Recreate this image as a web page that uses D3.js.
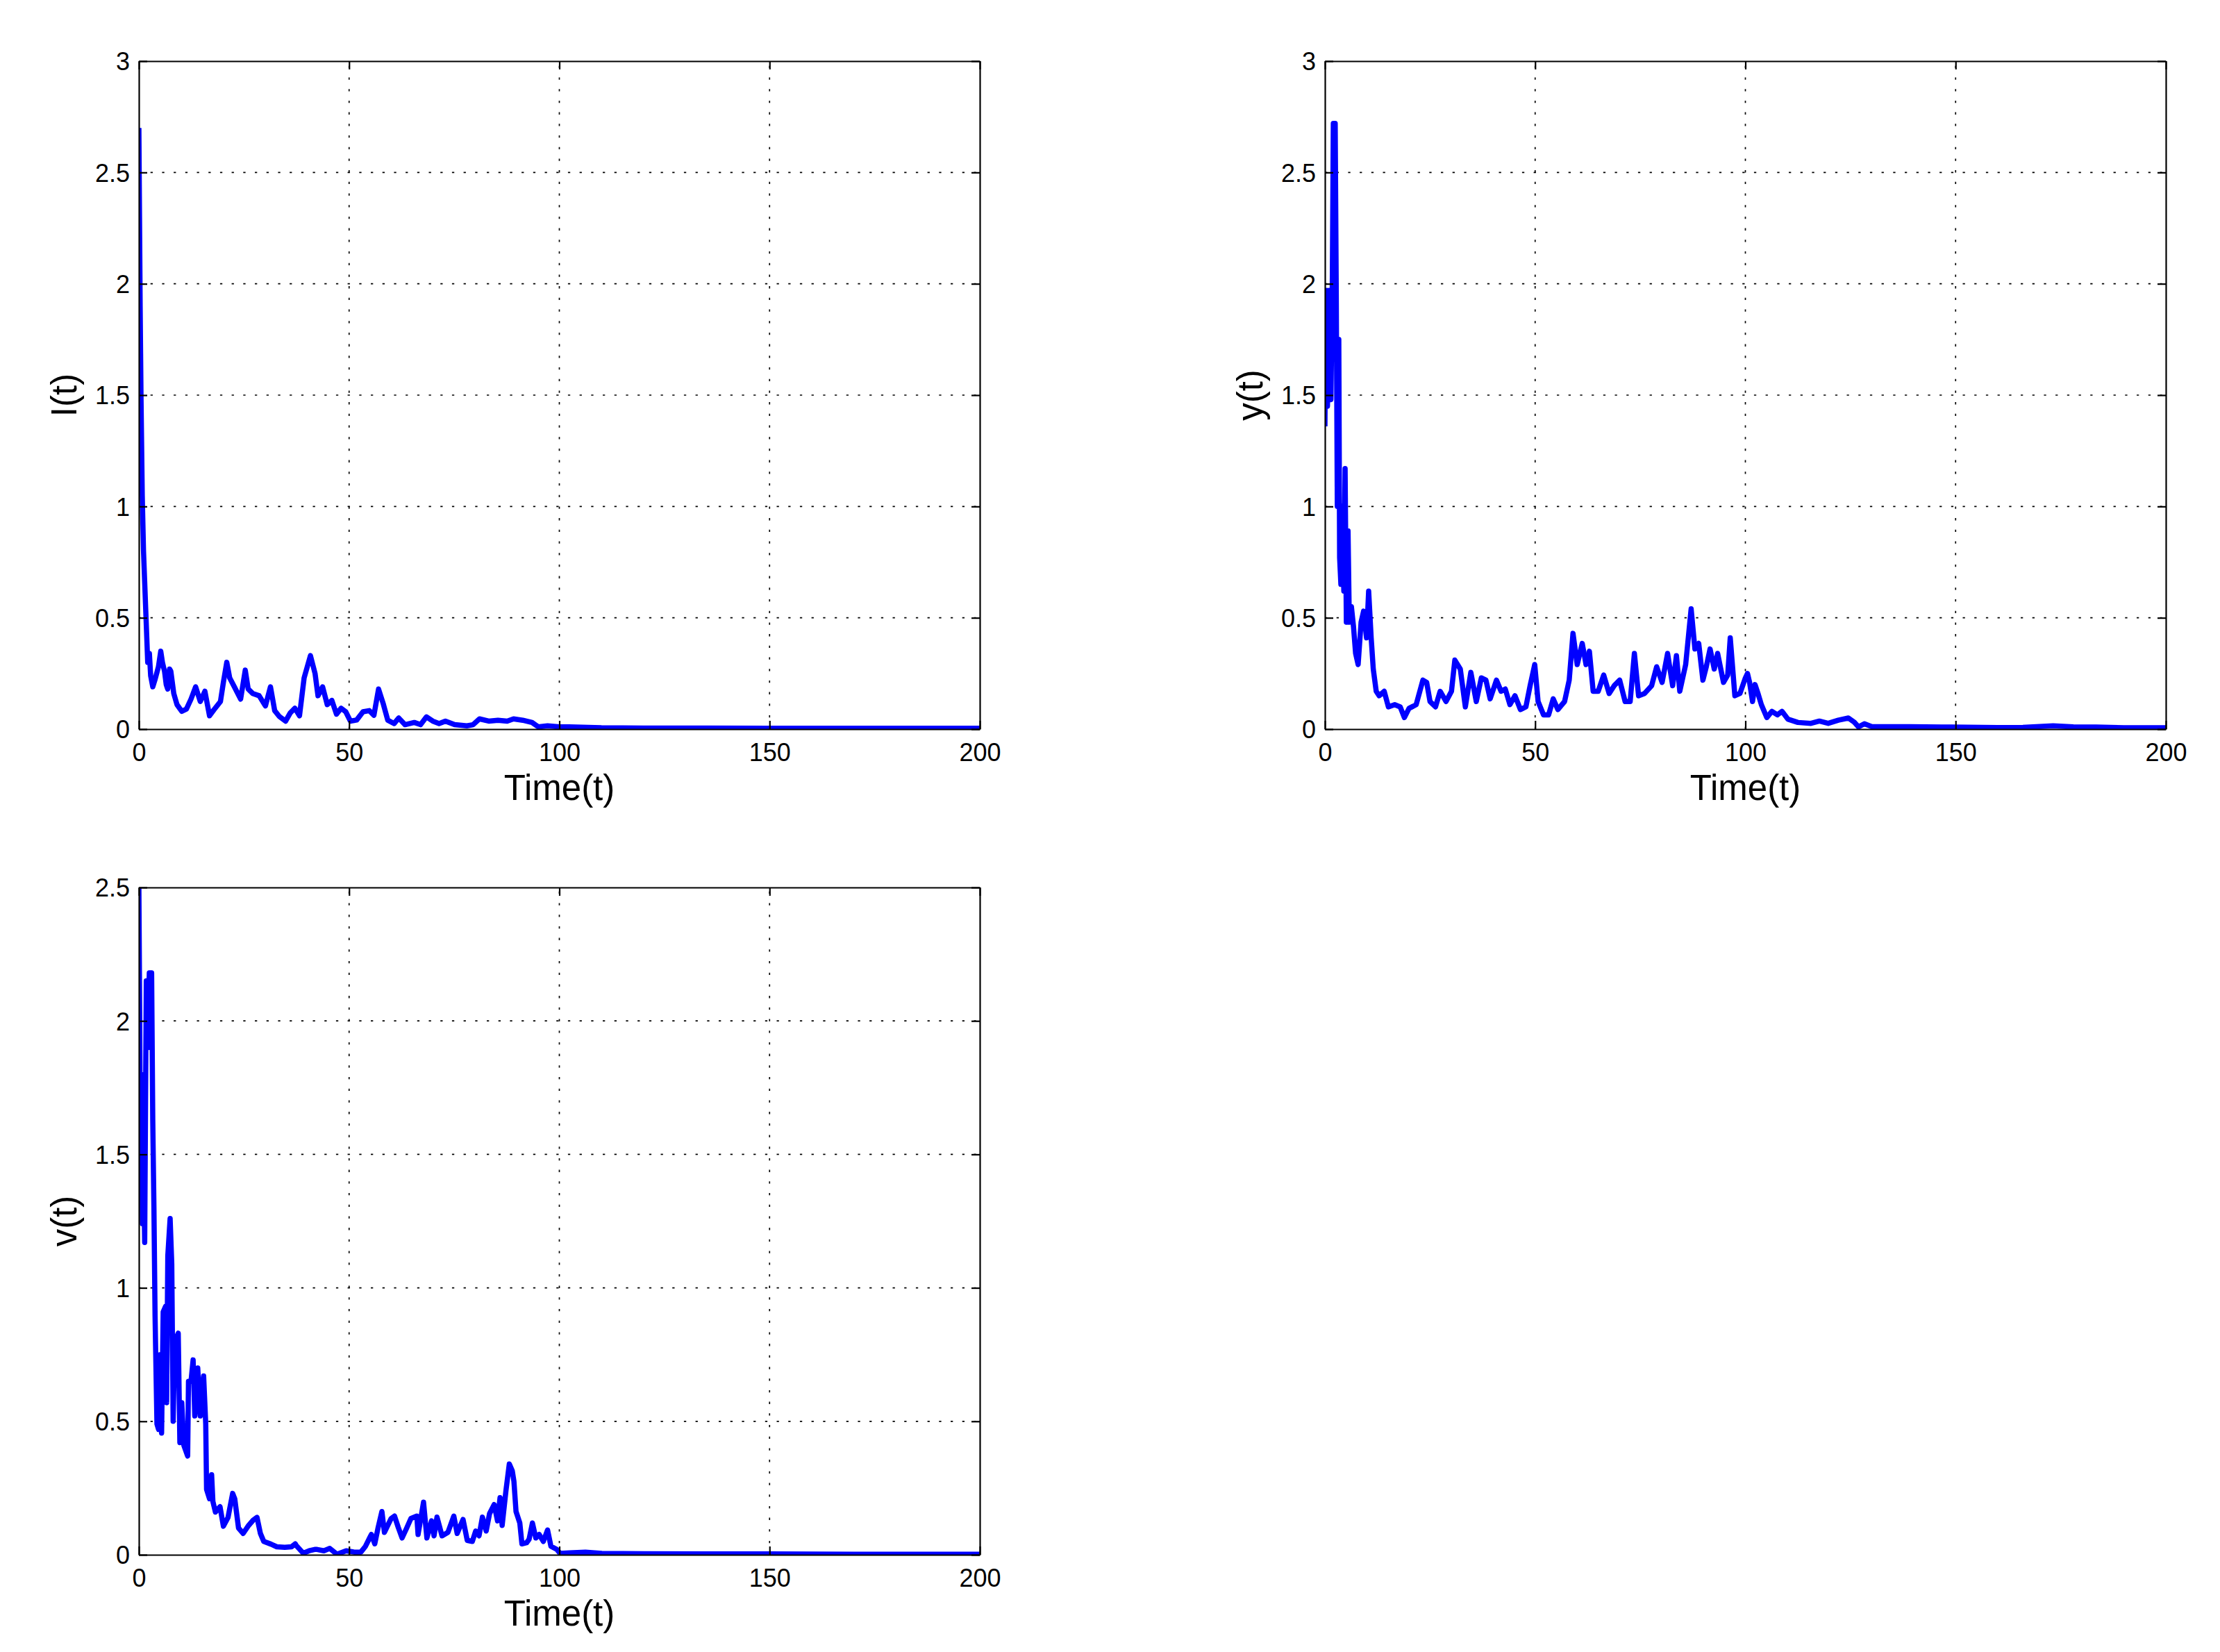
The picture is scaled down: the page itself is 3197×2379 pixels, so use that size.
<!DOCTYPE html>
<html>
<head>
<meta charset="utf-8">
<script src="https://cdn.jsdelivr.net/npm/d3@7"></script>
<style>
  html, body { margin: 0; padding: 0; background: #fff; }
  svg { display: block; }
</style>
</head>
<body>
<div id="chart"></div>
<script>
// tick labels
const xTicks = [0, 50, 100, 150, 200];
const yTicksTop = [0, 0.5, 1, 1.5, 2, 2.5, 3];
const yTicksBottom = [0, 0.5, 1, 1.5, 2, 2.5];

// I(t) as [time, value]
const seriesI = [
  [0,2.70],[0.15,2.3],[0.3,1.9],[0.5,1.5],[0.8,1.05],[1.1,0.8],[1.5,0.6],[1.8,0.45],[2.1,0.30],
  [2.5,0.34],[2.8,0.24],[3.3,0.19],[3.8,0.22],[4.65,0.28],[5.2,0.35],[5.6,0.30],[6.1,0.26],
  [6.5,0.20],[6.86,0.18],[7.3,0.27],[7.6,0.26],[8.3,0.16],[9.07,0.11],[10.2,0.08],[11.3,0.09],
  [12.4,0.135],[13.5,0.19],[14.6,0.124],[15.7,0.17],[16.8,0.06],[17.9,0.088],[19.4,0.124],
  [20.1,0.21],[20.9,0.30],[21.6,0.23],[22.7,0.19],[24.2,0.135],[25.3,0.265],[26.0,0.18],
  [27.1,0.16],[28.6,0.15],[30.1,0.104],[31.3,0.19],[32.3,0.083],[33.4,0.057],[34.9,0.036],
  [36.0,0.073],[37.1,0.094],[38.2,0.06],[39.3,0.23],[40.8,0.33],[41.9,0.25],[42.6,0.15],
  [43.7,0.19],[44.8,0.11],[45.9,0.129],[47.0,0.067],[48.1,0.094],[49.2,0.078],[50.3,0.036],
  [51.8,0.041],[53.3,0.078],[54.8,0.083],[55.9,0.062],[57.0,0.18],[58.1,0.115],[59.2,0.04],
  [60.7,0.025],[61.8,0.05],[63.3,0.02],[65.5,0.03],[67.0,0.02],[68.4,0.055],[69.9,0.036],
  [71.4,0.025],[72.9,0.036],[75.1,0.02],[78.0,0.015],[79.5,0.02],[81.0,0.046],[83.2,0.036],
  [85.4,0.04],[87.6,0.036],[89.1,0.046],[91.3,0.04],[93.5,0.03],[95.0,0.01],[97.2,0.015],
  [100.1,0.01],[102.3,0.01],[110,0.006],[120,0.005],[135,0.005],[150,0.004],[165,0.004],
  [180,0.004],[200,0.004]
];

// y(t)
const seriesY = [
  [0,1.36],[0.2,1.9],[0.42,1.97],[0.6,1.45],[0.76,1.6],[0.95,1.97],[1.1,1.5],[1.43,1.48],
  [1.77,2.03],[2.0,2.72],[2.44,2.72],[2.7,1.94],[2.95,1.0],[3.3,1.75],[3.5,0.77],[3.8,0.65],
  [4.1,1.0],[4.5,0.62],[4.8,1.17],[5.1,0.48],[5.5,0.89],[5.8,0.48],[6.3,0.55],[6.8,0.46],
  [7.3,0.34],[7.9,0.29],[8.6,0.48],[9.2,0.53],[9.9,0.41],[10.4,0.62],[11.0,0.41],[11.5,0.27],
  [12.2,0.17],[12.9,0.15],[14.1,0.17],[15.1,0.10],[16.6,0.11],[17.9,0.10],[18.9,0.052],
  [20.0,0.093],[21.7,0.11],[23.3,0.22],[24.2,0.21],[25.0,0.124],[26.3,0.10],[27.4,0.17],
  [28.8,0.124],[30.1,0.17],[30.9,0.31],[32.2,0.27],[33.4,0.10],[34.7,0.255],[36.0,0.124],
  [37.2,0.23],[38.3,0.22],[39.3,0.136],[40.8,0.22],[41.9,0.17],[42.9,0.18],[44.0,0.11],
  [45.2,0.15],[46.5,0.088],[47.8,0.10],[48.8,0.195],[49.9,0.29],[50.7,0.124],[52.0,0.064],
  [53.2,0.064],[54.3,0.136],[55.4,0.088],[57.0,0.124],[58.1,0.22],[59.0,0.43],[60.0,0.29],
  [61.2,0.385],[62.1,0.29],[62.9,0.35],[63.8,0.17],[65.0,0.17],[66.3,0.243],[67.6,0.16],
  [68.8,0.195],[70.1,0.22],[71.4,0.124],[72.6,0.124],[73.6,0.34],[74.6,0.15],[76.0,0.16],
  [77.7,0.195],[78.9,0.28],[80.2,0.21],[81.5,0.34],[82.7,0.195],[83.6,0.33],[84.4,0.17],
  [85.8,0.29],[87.1,0.54],[88.0,0.36],[88.9,0.385],[89.9,0.22],[90.7,0.28],[91.6,0.36],
  [92.6,0.27],[93.4,0.34],[94.8,0.21],[95.8,0.243],[96.4,0.41],[97.5,0.15],[98.7,0.16],
  [100.0,0.23],[100.5,0.25],[101.0,0.21],[101.7,0.124],[102.3,0.2],[103.0,0.16],[103.8,0.11],
  [105.1,0.052],[106.3,0.08],[107.6,0.064],[108.7,0.08],[110.1,0.045],[112.5,0.03],
  [115.6,0.026],[117.6,0.036],[119.7,0.026],[122.1,0.04],[124.5,0.05],[125.9,0.031],
  [126.9,0.01],[128.3,0.024],[130.0,0.012],[139,0.011],[149,0.009],[160,0.007],[166,0.008],
  [173.2,0.015],[178,0.01],[183.4,0.009],[190,0.006],[200,0.006]
];

// v(t)
const seriesV = [
  [0,2.5],[0.2,2.0],[0.39,1.42],[0.6,1.8],[0.83,1.24],[1.1,1.5],[1.38,1.17],[1.76,2.15],
  [2.1,1.9],[2.48,2.18],[3.03,2.18],[3.3,1.63],[3.58,1.30],[3.85,0.895],[4.3,0.49],[4.68,0.47],
  [5.07,0.75],[5.4,0.456],[5.78,0.91],[6.33,0.93],[6.6,0.57],[6.88,1.12],[7.43,1.26],
  [7.82,1.09],[8.15,0.50],[8.53,0.80],[9.36,0.83],[9.75,0.42],[10.2,0.57],[10.7,0.41],
  [11.6,0.37],[11.8,0.65],[12.4,0.65],[12.9,0.73],[13.3,0.52],[14.0,0.70],[14.6,0.52],
  [15.4,0.67],[15.9,0.49],[16.1,0.245],[16.8,0.21],[17.3,0.30],[17.6,0.2],[18.2,0.16],
  [19.3,0.18],[20.1,0.107],[21.2,0.14],[22.3,0.23],[22.8,0.21],[23.7,0.10],[24.8,0.08],
  [26.1,0.11],[27.2,0.13],[28.1,0.14],[28.9,0.08],[29.7,0.05],[31.4,0.04],[32.8,0.03],
  [34.7,0.028],[36.3,0.03],[37.2,0.041],[37.4,0.035],[39.1,0.006],[40.7,0.016],[41.8,0.02],
  [42.4,0.02],[44.0,0.015],[45.4,0.024],[47.1,0.002],[49.3,0.015],[51.2,0.01],[52.8,0.01],
  [53.9,0.032],[55.0,0.067],[55.3,0.076],[56.1,0.041],[56.9,0.102],[57.8,0.162],[58.4,0.084],
  [59.2,0.11],[60.0,0.136],[60.8,0.145],[61.7,0.102],[62.6,0.063],[63.6,0.097],[64.7,0.136],
  [66.1,0.145],[66.4,0.076],[67.7,0.197],[68.5,0.063],[69.6,0.127],[70.2,0.071],[70.9,0.141],
  [72.1,0.071],[73.5,0.084],[74.9,0.145],[75.7,0.08],[77.1,0.132],[78.1,0.054],[79.3,0.05],
  [80.1,0.089],[80.9,0.071],[81.7,0.141],[82.6,0.089],[83.4,0.154],[84.5,0.188],[85.3,0.127],
  [85.9,0.214],[86.4,0.11],[87.3,0.24],[88.1,0.34],[88.8,0.315],[89.2,0.275],[89.7,0.162],
  [90.6,0.119],[91.1,0.041],[92.2,0.045],[92.8,0.058],[93.6,0.119],[94.4,0.063],[95.2,0.076],
  [96.2,0.05],[97.2,0.093],[98.0,0.032],[99.4,0.02],[100.2,0.005],[102.4,0.007],[106.2,0.01],
  [110.1,0.005],[120,0.004],[135,0.003],[150,0.003],[170,0.002],[185,0.002],[200,0.002]
];

const W = 3197, H = 2379;
const font = "'Liberation Sans', Arial, Helvetica, sans-serif";

const panels = [
  { id: 'p1', left: 200, top: 88, w: 1211, h: 962, yMax: 3, yTicks: yTicksTop, label: 'I(t)', data: seriesI },
  { id: 'p2', left: 1908, top: 88, w: 1211, h: 962, yMax: 3, yTicks: yTicksTop, label: 'y(t)', data: seriesY },
  { id: 'p3', left: 200, top: 1278, w: 1211, h: 961, yMax: 2.5, yTicks: yTicksBottom, label: 'v(t)', data: seriesV },
];

const svg = d3.select('#chart')
  .append('svg')
  .attr('width', W)
  .attr('height', H)
  .attr('font-family', font);

svg.append('rect').attr('width', W).attr('height', H).attr('fill', '#fff');

function drawPanel(p) {
  const x = d3.scaleLinear().domain([0, 200]).range([0, p.w]);
  const y = d3.scaleLinear().domain([0, p.yMax]).range([p.h, 0]);

  const g = svg.append('g').attr('transform', `translate(${p.left},${p.top})`);

  g.append('clipPath').attr('id', 'clip-' + p.id)
    .append('rect').attr('width', p.w).attr('height', p.h);

  // dotted grid
  const grid = g.append('g')
    .attr('stroke', '#000')
    .attr('stroke-width', 1.7)
    .attr('stroke-dasharray', '3.3 13.4');
  grid.selectAll('.gx')
    .data(xTicks.filter(d => d > 0 && d < 200))
    .join('line')
    .attr('x1', d => x(d)).attr('x2', d => x(d))
    .attr('y1', p.h).attr('y2', 0);
  grid.selectAll('.gy')
    .data(p.yTicks.filter(d => d > 0 && d < p.yMax))
    .join('line')
    .attr('y1', d => y(d)).attr('y2', d => y(d))
    .attr('x1', 0).attr('x2', p.w);

  // data line
  const line = d3.line().x(d => x(d[0])).y(d => y(d[1]));
  g.append('path')
    .datum(p.data)
    .attr('clip-path', `url(#clip-${p.id})`)
    .attr('fill', 'none')
    .attr('stroke', '#0000ff')
    .attr('stroke-width', 7.5)
    .attr('stroke-linejoin', 'round')
    .attr('d', line);

  // box with inward ticks on all sides
  const bottom = g.append('g').attr('transform', `translate(0,${p.h})`)
    .call(d3.axisBottom(x).tickValues(xTicks).tickSizeInner(-12).tickSizeOuter(0).tickPadding(20)
      .tickFormat(d3.format('d')));
  const top = g.append('g')
    .call(d3.axisTop(x).tickValues(xTicks).tickSizeInner(-12).tickSizeOuter(0).tickFormat(''));
  const left = g.append('g')
    .call(d3.axisLeft(y).tickValues(p.yTicks).tickSizeInner(-12).tickSizeOuter(0).tickPadding(13)
      .tickFormat(d => String(d)));
  const right = g.append('g').attr('transform', `translate(${p.w},0)`)
    .call(d3.axisRight(y).tickValues(p.yTicks).tickSizeInner(-12).tickSizeOuter(0).tickFormat(''));

  [bottom, top, left, right].forEach(a => {
    a.attr('font-family', font).attr('font-size', 36);
    a.select('.domain').attr('stroke', '#000').attr('stroke-width', 2.2);
    a.selectAll('.tick line').attr('stroke', '#000').attr('stroke-width', 2.2);
    a.selectAll('.tick text').attr('fill', '#000');
  });
  left.selectAll('.tick text').attr('dy', '0.36em');

  // axis labels
  g.append('text')
    .attr('x', p.w / 2)
    .attr('y', p.h + 102)
    .attr('text-anchor', 'middle')
    .attr('font-size', 51)
    .attr('fill', '#000')
    .text('Time(t)');

  g.append('text')
    .attr('transform', `translate(-90,${p.h / 2}) rotate(-90)`)
    .attr('text-anchor', 'middle')
    .attr('font-size', 51)
    .attr('fill', '#000')
    .text(p.label);
}

panels.forEach(drawPanel);
</script>
</body>
</html>
